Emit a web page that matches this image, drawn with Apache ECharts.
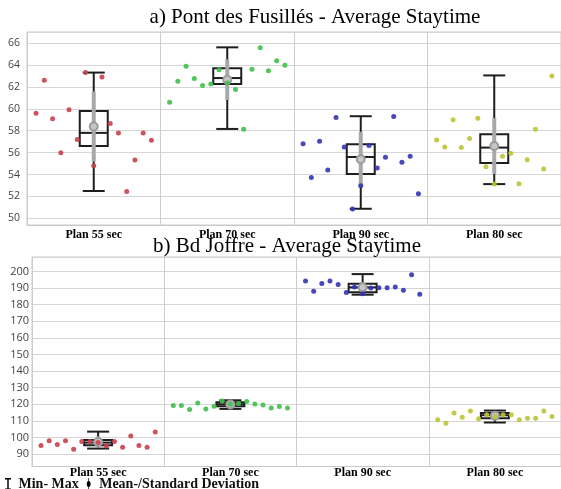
<!DOCTYPE html>
<html><head><meta charset="utf-8">
<script src="https://cdn.jsdelivr.net/npm/echarts@6/dist/echarts.min.js"></script>
<style>html,body{margin:0;padding:0;background:#fff}#c{width:561px;height:489px}</style>
</head><body><div id="c"></div>
<script>
// ---------- data ----------
const categories = ['Plan 55 sec', 'Plan 70 sec', 'Plan 90 sec', 'Plan 80 sec'];
const pointColors = ['#c8404c', '#3fbf4a', '#3434b4', '#bcc436'];

// a) Pont des Fusillés
const yTicksTop = [50, 52, 54, 56, 58, 60, 62, 64, 66];
const topP55 = [59.6, 62.6, 59.1, 56.0, 59.9, 57.2, 63.3, 54.8, 62.9, 58.65, 57.8, 52.46, 55.33, 57.8, 57.13];
const topP70 = [60.6, 62.5, 63.87, 62.77, 62.13, 62.25, 63.56, 62.35, 61.76, 58.13, 63.6, 65.57, 63.47, 64.38, 63.96];
const topP90 = [56.8, 53.74, 57.04, 54.41, 59.2, 56.52, 50.85, 52.98, 56.64, 54.6, 55.57, 59.29, 55.12, 55.66, 52.25];
const topP80 = [57.16, 56.52, 58.99, 56.46, 57.28, 59.14, 54.72, 53.13, 55.66, 55.94, 53.16, 55.36, 58.13, 54.5, 62.98];
// [min, q1, median, q3, max]
const topBox = [
  [52.5, 56.6, 57.8, 59.8, 63.3],
  [58.16, 62.25, 62.8, 63.7, 65.6],
  [50.88, 54.05, 55.6, 56.76, 59.32],
  [53.13, 55.05, 56.46, 57.68, 63.04]
];
const topMean = [58.38, 62.65, 55.4, 56.6];
const topStd = [3.2, 1.85, 2.5, 2.55];

// b) Bd Joffre
const yTicksBot = [90, 100, 110, 120, 130, 140, 150, 160, 170, 180, 190, 200];
const botP55 = [95.1, 97.96, 95.7, 98.0, 92.9, 97.55, 97.5, 97.0, 94.9, 97.55, 94.1, 100.8, 95.1, 94.1, 103.3];
const botP70 = [119.2, 119.2, 116.8, 120.8, 117.2, 118.8, 122.0, 120.0, 120.5, 121.6, 120.2, 119.6, 117.8, 118.6, 117.8];
const botP90 = [194.2, 188.0, 192.8, 194.2, 192.2, 187.3, 190.6, 186.5, 190.0, 190.2, 190.2, 190.6, 188.6, 198.0, 186.3];
const botP80 = [110.6, 108.6, 114.8, 112.2, 116.0, 111.2, 113.6, 112.4, 113.6, 113.6, 110.6, 111.6, 111.6, 116.0, 112.6];
const botBox = [
  [93.3, 95.3, 96.9, 98.4, 103.5],
  [117.2, 118.8, 120.0, 121.2, 122.4],
  [186.0, 187.4, 190.4, 192.6, 198.4],
  [109.0, 111.6, 113.4, 114.8, 116.2]
];
const botMean = [97.25, 119.8, 190.5, 113.0];
const botStd = [3.4, 1.6, 3.0, 2.0];

// ---------- build ----------
const serif = 'Liberation Serif';
const BOX = 'Min- Max';
const MEAN = 'Mean-/Standard Deviation';

function boxRender(params, api) {
  const ci = api.value(0);
  const mn = api.coord([ci, api.value(1)]);
  const q1 = api.coord([ci, api.value(2)]);
  const md = api.coord([ci, api.value(3)]);
  const q3 = api.coord([ci, api.value(4)]);
  const mx = api.coord([ci, api.value(5)]);
  const bw = 28, cw = 22, x = mn[0];
  const st = { stroke: '#1e1e1e', lineWidth: 2, fill: 'none' };
  return { type: 'group', children: [
    { type: 'line', shape: { x1: x, y1: mx[1], x2: x, y2: q3[1] }, style: st },
    { type: 'line', shape: { x1: x, y1: q1[1], x2: x, y2: mn[1] }, style: st },
    { type: 'line', shape: { x1: x - cw / 2, y1: mx[1], x2: x + cw / 2, y2: mx[1] }, style: st },
    { type: 'line', shape: { x1: x - cw / 2, y1: mn[1], x2: x + cw / 2, y2: mn[1] }, style: st },
    { type: 'rect', shape: { x: x - bw / 2, y: q3[1], width: bw, height: q1[1] - q3[1] }, style: st },
    { type: 'line', shape: { x1: x - bw / 2, y1: md[1], x2: x + bw / 2, y2: md[1] }, style: st }
  ]};
}
function meanRender(params, api) {
  const ci = api.value(0), m = api.value(1), s = api.value(2);
  const hi = api.coord([ci, m + s]), lo = api.coord([ci, m - s]), c = api.coord([ci, m]);
  return { type: 'group', children: [
    { type: 'line', shape: { x1: c[0], y1: hi[1], x2: c[0], y2: lo[1] }, style: { stroke: '#a8a8a8', lineWidth: 4 } },
    { type: 'circle', shape: { cx: c[0], cy: c[1], r: 4 }, style: { fill: '#c6c6c6', stroke: '#9c9c9c', lineWidth: 2 } }
  ]};
}

function buildSeries(g, pts, box, mean, std) {
  const out = [];
  out.push({
    type: 'custom', name: BOX, xAxisIndex: g * 2, yAxisIndex: g, z: 3,
    renderItem: boxRender, encode: { x: 0, y: [1, 2, 3, 4, 5] },
    itemStyle: { color: '#111' },
    data: box.map((b, i) => [i].concat(b))
  });
  out.push({
    type: 'custom', name: MEAN, xAxisIndex: g * 2, yAxisIndex: g, z: 4,
    renderItem: meanRender, encode: { x: 0, y: 1 },
    itemStyle: { color: '#111' },
    data: mean.map((m, i) => [i, m, std[i]])
  });
  pts.forEach((arr, ci) => {
    const n = arr.length, step = 0.0617;
    out.push({
      type: 'scatter', xAxisIndex: g * 2 + 1, yAxisIndex: g, z: 5,
      symbol: 'circle', symbolSize: 5,
      itemStyle: { color: pointColors[ci], opacity: 0.9 },
      data: arr.map((v, i) => [ci + (i - (n - 1) / 2) * step, v])
    });
  });
  return out;
}

const catAxis = (g, margin) => ({
  type: 'category', gridIndex: g, data: categories, boundaryGap: true,
  axisLine: { show: true, lineStyle: { color: '#c8c8c8' } },
  axisTick: { show: false },
  splitLine: { show: true, lineStyle: { color: '#cdcdcd', width: 1 } },
  axisLabel: { color: '#000', fontFamily: serif, fontWeight: 'bold', fontSize: 12, margin: margin }
});
const valXAxis = (g) => ({ type: 'value', gridIndex: g, min: -0.5, max: 3.5, show: false });
const yAxis = (g, min, max, iv, ticks, fs, margin) => ({
  type: 'value', gridIndex: g, min: min, max: max, splitNumber: 12,
  minInterval: iv, maxInterval: iv,
  axisLine: { show: false }, axisTick: { show: false },
  splitLine: { show: true, lineStyle: { color: '#d6d6d6', width: 1 } },
  axisLabel: { color: '#444', fontFamily: 'Open Sans', fontSize: fs, margin: margin,
    formatter: v => ticks.indexOf(Math.round(v * 100) / 100) >= 0 ? String(Math.round(v)) : '' }
});

const option = {
  backgroundColor: '#fff',
  animation: false,
  title: [
    { text: 'a) Pont des Fusillés - Average Staytime', left: 315, top: 7, textAlign: 'center', padding: 0,
      textStyle: { fontFamily: serif, fontSize: 21, fontWeight: 'normal', color: '#000' } },
    { text: 'b) Bd Joffre - Average Staytime', left: 287, top: 236, textAlign: 'center', padding: 0,
      textStyle: { fontFamily: serif, fontSize: 21, fontWeight: 'normal', color: '#000' } }
  ],
  legend: {
    left: 5, top: 477, padding: 0, itemWidth: 11, itemHeight: 12, itemGap: 8,
    selectedMode: false,
    textStyle: { fontFamily: serif, fontSize: 14, fontWeight: 'bold', color: '#111', padding: [0, 0, 0, 0] },
    data: [
      { name: BOX, icon: 'path://M0,0H10V2.4H6.2V17.6H10V20H0V17.6H3.8V2.4H0Z', itemStyle: { color: '#000' } },
      { name: MEAN, icon: 'path://M4.4,0H5.6V20H4.4Z M5,5A3.2,5 0 1,1 5,15A3.2,5 0 1,1 5,5Z', itemStyle: { color: '#000' } }
    ]
  },
  grid: [
    { left: 27, top: 32, width: 538, height: 193, show: true, borderColor: '#c8c8c8', borderWidth: 1 },
    { left: 32, top: 257, width: 530, height: 209.5, show: true, borderColor: '#c8c8c8', borderWidth: 1 }
  ],
  xAxis: [catAxis(0, 4), valXAxis(0), catAxis(1, 0), valXAxis(1)],
  yAxis: [
    yAxis(0, 49.4, 67.0, 2, yTicksTop, 10.5, 7),
    yAxis(1, 82.5, 208.7, 10, yTicksBot, 11, 3)
  ],
  series: [].concat(
    buildSeries(0, [topP55, topP70, topP90, topP80], topBox, topMean, topStd),
    buildSeries(1, [botP55, botP70, botP90, botP80], botBox, botMean, botStd)
  )
};
echarts.init(document.getElementById('c'), null, { renderer: 'canvas' }).setOption(option);
</script></body></html>
